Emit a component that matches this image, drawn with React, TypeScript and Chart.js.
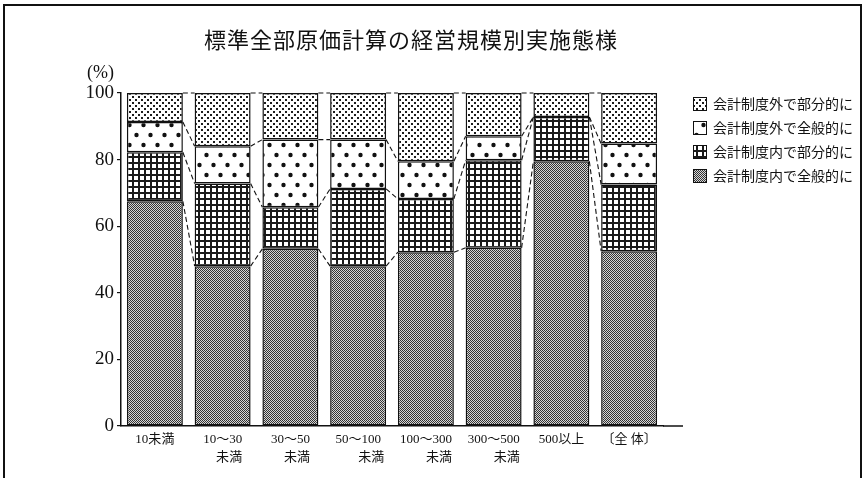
import { useEffect, useRef } from "react";
import { Chart, registerables } from "chart.js";

Chart.register(...registerables);

// Survey of standard full-costing adoption by company size
const chartTitle = "標準全部原価計算の経営規模別実施態様";
const unitLabel = "(%)";

const sizeClasses: string[][] = [
  ["10未満"],
  ["10～30", "\u3000未満"],
  ["30～50", "\u3000未満"],
  ["50～100", "\u3000\u3000未満"],
  ["100～300", "\u3000\u3000未満"],
  ["300～500", "\u3000\u3000未満"],
  ["500以上"],
  ["〔全 体〕"],
];

const seriesNames = [
  "会計制度内で全般的に",
  "会計制度内で部分的に",
  "会計制度外で全般的に",
  "会計制度外で部分的に",
];

const insideFull = [67.5, 48.0, 53.2, 48.0, 52.2, 53.5, 79.5, 52.5];
const insidePartial = [14.7, 24.8, 12.5, 23.2, 16.0, 26.3, 13.3, 20.0];
const outsideFull = [9.1, 11.2, 20.3, 14.8, 11.3, 7.2, 0, 12.3];
const outsidePartial = [8.7, 16.0, 14.0, 14.0, 20.5, 13.0, 7.2, 15.2];

const yTicks = [0, 20, 40, 60, 80, 100];

const INK = "#111";
const SERIF = "'Liberation Serif', 'Noto Sans CJK JP', serif";
const CJK = "'Noto Sans CJK JP', sans-serif";

function makePattern(w: number, h: number, draw: (g: CanvasRenderingContext2D) => void): CanvasPattern {
  const c = document.createElement("canvas");
  c.width = w;
  c.height = h;
  const g = c.getContext("2d")!;
  draw(g);
  return g.createPattern(c, "repeat")!;
}

function buildPatterns(): CanvasPattern[] {
  // fine dithered grey
  const grey = makePattern(4, 4, (g) => {
    g.fillStyle = "#d6d6d6";
    g.fillRect(0, 0, 4, 4);
    g.fillStyle = "#333";
    for (let y = 0; y < 4; y++)
      for (let x = 0; x < 4; x++) if ((x + y) % 2 === 0) g.fillRect(x, y, 1, 1);
  });
  // square grid
  const grid = makePattern(6, 6, (g) => {
    g.fillStyle = "#fff";
    g.fillRect(0, 0, 6, 6);
    g.fillStyle = "#1a1a1a";
    g.fillRect(0, 0, 6, 2);
    g.fillRect(0, 0, 2, 6);
  });
  // sparse large dots
  const bigDots = makePattern(14, 20, (g) => {
    g.fillStyle = "#fff";
    g.fillRect(0, 0, 14, 20);
    g.fillStyle = "#111";
    g.beginPath();
    g.arc(3.5, 5, 2.2, 0, Math.PI * 2);
    g.arc(10.5, 15, 2.2, 0, Math.PI * 2);
    g.fill();
  });
  // dense small dots
  const fineDots = makePattern(6, 6, (g) => {
    g.fillStyle = "#fff";
    g.fillRect(0, 0, 6, 6);
    g.fillStyle = "#1c1c1c";
    g.fillRect(0, 0, 2, 2);
    g.fillRect(3, 3, 2, 2);
  });
  return [grey, grid, bigDots, fineDots];
}

// dashed lines joining matching segment boundaries of neighbouring bars
const connectorPlugin = {
  id: "connectors",
  afterDatasetsDraw(chart: any) {
    const ctx: CanvasRenderingContext2D = chart.ctx;
    ctx.save();
    ctx.setLineDash([5, 3]);
    ctx.lineWidth = 1.1;
    ctx.strokeStyle = INK;
    const count = chart.data.datasets.length;
    for (let d = 0; d < count; d++) {
      const bars = chart.getDatasetMeta(d).data;
      for (let i = 0; i < bars.length - 1; i++) {
        const a = bars[i];
        const b = bars[i + 1];
        ctx.beginPath();
        ctx.moveTo(a.x + a.width / 2, a.y);
        ctx.lineTo(b.x - b.width / 2, b.y);
        ctx.stroke();
      }
    }
    ctx.restore();
  },
};

// frame, title, unit label, axis extension and legend
const decorPlugin = {
  id: "decor",
  beforeDraw(chart: any) {
    const ctx: CanvasRenderingContext2D = chart.ctx;
    ctx.save();
    ctx.fillStyle = "#fff";
    ctx.fillRect(0, 0, chart.width, chart.height);
    ctx.restore();
  },
  afterDraw(chart: any) {
    const ctx: CanvasRenderingContext2D = chart.ctx;
    const area = chart.chartArea;
    ctx.save();

    // outer frame
    ctx.strokeStyle = INK;
    ctx.lineWidth = 2;
    ctx.strokeRect(4, 5, 857, 480);

    // title
    ctx.fillStyle = INK;
    ctx.font = `22px ${CJK}`;
    (ctx as any).letterSpacing = "1px";
    ctx.textAlign = "center";
    ctx.textBaseline = "middle";
    ctx.fillText(chartTitle, 411, 40);
    (ctx as any).letterSpacing = "0px";

    // unit label
    ctx.font = `18px ${SERIF}`;
    ctx.textAlign = "right";
    ctx.fillText(unitLabel, 114, 73);

    // baseline continues past the last bar
    ctx.lineWidth = 1.5;
    ctx.beginPath();
    ctx.moveTo(area.right, area.bottom);
    ctx.lineTo(683, area.bottom);
    ctx.stroke();

    // legend, top series first
    const datasets = chart.data.datasets;
    ctx.font = `14px ${CJK}`;
    ctx.textAlign = "left";
    ctx.textBaseline = "middle";
    for (let k = 0; k < datasets.length; k++) {
      const ds = datasets[datasets.length - 1 - k];
      const top = 97 + k * 24;
      ctx.fillStyle = ds.backgroundColor;
      ctx.fillRect(693, top, 14, 14);
      ctx.lineWidth = 1;
      ctx.strokeStyle = INK;
      ctx.strokeRect(693.5, top + 0.5, 13, 13);
      ctx.fillStyle = INK;
      ctx.fillText(ds.label, 713, top + 7);
    }
    ctx.restore();
  },
};

export default function App() {
  const canvasRef = useRef<HTMLCanvasElement | null>(null);

  useEffect(() => {
    const canvas = canvasRef.current;
    if (!canvas) return;
    const patterns = buildPatterns();
    const series = [insideFull, insidePartial, outsideFull, outsidePartial];

    const chart = new Chart(canvas, {
      type: "bar",
      data: {
        labels: sizeClasses,
        datasets: series.map((values, i) => ({
          label: seriesNames[i],
          data: values,
          backgroundColor: patterns[i],
          borderColor: INK,
          borderWidth: 1.5,
          borderSkipped: false,
          barPercentage: 0.826,
          categoryPercentage: 1,
        })),
      },
      options: {
        responsive: false,
        animation: false,
        events: [],
        layout: { padding: { top: 93, right: 203, bottom: 0, left: 0 } },
        plugins: {
          legend: { display: false },
          tooltip: { enabled: false },
          title: { display: false },
        },
        scales: {
          x: {
            stacked: true,
            grid: { display: false, drawTicks: false },
            border: { display: true, color: INK, width: 1.5 },
            ticks: {
              color: INK,
              font: { family: SERIF, size: 13, lineHeight: 1.4 },
              padding: 4,
              maxRotation: 0,
              autoSkip: false,
            },
            afterFit: (scale: any) => {
              scale.height = 52;
            },
          },
          y: {
            stacked: true,
            min: 0,
            max: 100,
            afterBuildTicks: (scale: any) => {
              scale.ticks = yTicks.map((v) => ({ value: v }));
            },
            grid: {
              drawOnChartArea: false,
              drawTicks: true,
              tickLength: 4,
              color: INK,
              lineWidth: 1.2,
            },
            border: { display: true, color: INK, width: 1.5 },
            ticks: {
              color: INK,
              padding: 3,
              font: { family: SERIF, size: 19 },
            },
            afterFit: (scale: any) => {
              scale.width = 121;
            },
          },
        },
      },
      plugins: [decorPlugin, connectorPlugin],
    });

    return () => chart.destroy();
  }, []);

  return (
    <div style={{ position: "absolute", left: 0, top: 0, width: 866, height: 478 }}>
      <canvas ref={canvasRef} width={866} height={478} style={{ display: "block" }} />
    </div>
  );
}
